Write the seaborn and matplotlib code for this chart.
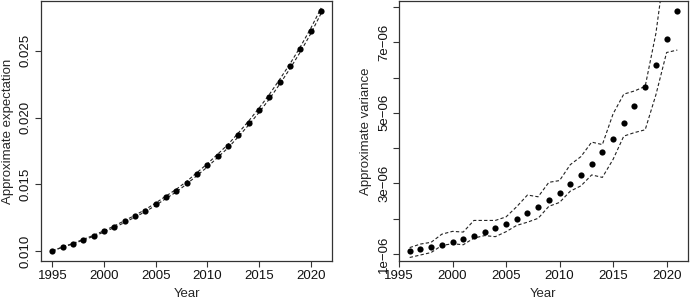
import numpy as np
import pandas as pd
import matplotlib
matplotlib.use("Agg")
import matplotlib.pyplot as plt
import seaborn as sns

# ---- data ----
years_exp = list(range(1995, 2022))
expectation = [0.01000, 0.01030, 0.01055, 0.01085, 0.01114, 0.01147, 0.01182, 0.01221,
               0.01261, 0.01303, 0.01351, 0.01403, 0.01453, 0.01512, 0.01577, 0.01642,
               0.01714, 0.01786, 0.01871, 0.01960, 0.02055, 0.02157, 0.02269, 0.02386,
               0.02512, 0.02649, 0.02801]
exp_upper = [0.01000, 0.01031, 0.01057, 0.01088, 0.01118, 0.01152, 0.01188, 0.01228,
             0.01268, 0.01311, 0.01360, 0.01412, 0.01463, 0.01522, 0.01588, 0.01654,
             0.01726, 0.01799, 0.01885, 0.01975, 0.02071, 0.02174, 0.02287, 0.02404,
             0.02531, 0.02669, 0.02821]
exp_lower = [0.01000, 0.01029, 0.01053, 0.01082, 0.01110, 0.01142, 0.01176, 0.01214,
             0.01254, 0.01295, 0.01342, 0.01394, 0.01443, 0.01502, 0.01566, 0.01630,
             0.01702, 0.01773, 0.01857, 0.01945, 0.02039, 0.02140, 0.02251, 0.02368,
             0.02493, 0.02629, 0.02781]

years_var = list(range(1996, 2022))
variance = [1.085e-6, 1.14e-6, 1.20e-6, 1.26e-6, 1.34e-6, 1.42e-6, 1.52e-6, 1.62e-6,
            1.73e-6, 1.86e-6, 2.00e-6, 2.16e-6, 2.33e-6, 2.52e-6, 2.73e-6, 2.98e-6,
            3.25e-6, 3.55e-6, 3.88e-6, 4.26e-6, 4.70e-6, 5.19e-6, 5.74e-6, 6.37e-6,
            7.09e-6, 7.90e-6]
var_upper = [1.18e-6, 1.28e-6, 1.33e-6, 1.56e-6, 1.64e-6, 1.62e-6, 1.95e-6, 1.95e-6,
             1.95e-6, 2.05e-6, 2.34e-6, 2.67e-6, 2.62e-6, 3.03e-6, 3.08e-6, 3.53e-6,
             3.76e-6, 4.17e-6, 4.10e-6, 4.97e-6, 5.53e-6, 5.62e-6, 5.75e-6, 7.25e-6,
             9.50e-6, 10.0e-6]
var_lower = [0.90e-6, 0.97e-6, 1.04e-6, 1.24e-6, 1.29e-6, 1.26e-6, 1.45e-6, 1.52e-6,
             1.49e-6, 1.63e-6, 1.81e-6, 1.90e-6, 2.01e-6, 2.35e-6, 2.46e-6, 2.78e-6,
             2.93e-6, 3.24e-6, 3.17e-6, 3.68e-6, 4.34e-6, 4.44e-6, 4.52e-6, 5.51e-6,
             6.71e-6, 6.78e-6]

exp_yticks = [0.010, 0.015, 0.020, 0.025]
exp_yticklabels = ["0.010", "0.015", "0.020", "0.025"]
var_yticks = [1e-6, 2e-6, 3e-6, 4e-6, 5e-6, 6e-6, 7e-6, 8e-6]
var_yticklabels = ["1e\u221206", "", "3e\u221206", "", "5e\u221206", "", "7e\u221206", ""]
xticks = [1995, 2000, 2005, 2010, 2015, 2020]

# ---- style ----
sns.set_style("white")
plt.rcParams['font.family'] = ['Liberation Sans', 'DejaVu Sans']
plt.rcParams['font.size'] = 9

fig = plt.figure(figsize=(6.9, 3.0), dpi=100)
ax1 = fig.add_axes([41 / 690, 1 - 261 / 300, (332 - 41) / 690, 260 / 300])
ax2 = fig.add_axes([399 / 690, 1 - 261 / 300, (688 - 399) / 690, 260 / 300])

dash = (0, (3, 2))
line_color = "#222222"

df1 = pd.DataFrame({"Year": years_exp, "exp": expectation, "up": exp_upper, "lo": exp_lower})
sns.lineplot(data=df1, x="Year", y="up", ax=ax1, color=line_color, lw=0.8, linestyle=dash)
sns.lineplot(data=df1, x="Year", y="lo", ax=ax1, color=line_color, lw=0.8, linestyle=dash)
sns.scatterplot(data=df1, x="Year", y="exp", ax=ax1, color="black", s=20, linewidth=0, zorder=3)

df2 = pd.DataFrame({"Year": years_var, "var": variance, "up": var_upper, "lo": var_lower})
sns.lineplot(data=df2, x="Year", y="up", ax=ax2, color=line_color, lw=0.8, linestyle=dash)
sns.lineplot(data=df2, x="Year", y="lo", ax=ax2, color=line_color, lw=0.8, linestyle=dash)
sns.scatterplot(data=df2, x="Year", y="var", ax=ax2, color="black", s=20, linewidth=0, zorder=3)

ax1.set_xlim(1993.9, 2022.05)
ax1.set_ylim(0.00925, 0.02873)
ax2.set_xlim(1995.0, 2022.0)
ax2.set_ylim(0.80e-6, 8.17e-6)

for ax in (ax1, ax2):
    ax.set_xticks(xticks)
    ax.set_xticklabels([str(x) for x in xticks])
    for s in ax.spines.values():
        s.set_visible(True)
        s.set_color("#333333")
        s.set_linewidth(0.9)
    ax.tick_params(axis="both", direction="out", length=4.5, width=0.8, color="#333333",
                   labelsize=9.5, labelcolor="#111111", pad=2)
    ax.tick_params(axis="both", left=True, bottom=True)
    ax.set_xlabel("Year", fontsize=9.5, labelpad=4)
    ax.grid(False)

ax1.set_yticks(exp_yticks)
ax1.set_yticklabels(exp_yticklabels, rotation=90, va="center")
ax1.set_ylabel("Approximate expectation", fontsize=9.5, labelpad=4)

ax2.set_yticks(var_yticks)
ax2.set_yticklabels(var_yticklabels, rotation=90, va="center")
ax2.set_ylabel("Approximate variance", fontsize=9.5, labelpad=4)

fig.savefig("out.png", dpi=100)
